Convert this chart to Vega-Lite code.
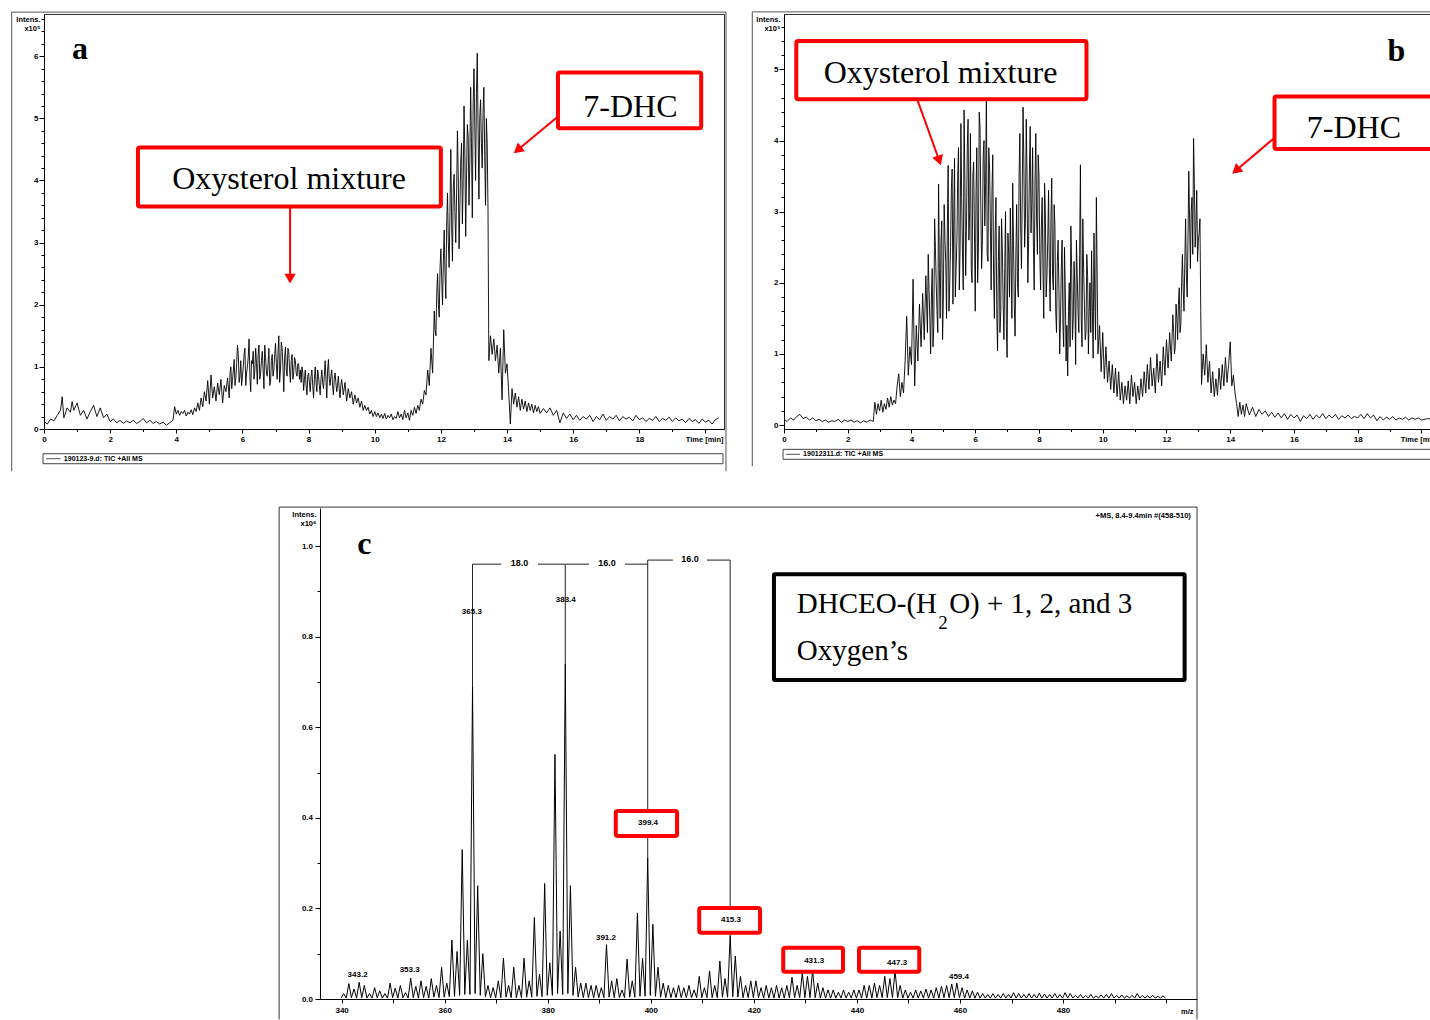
{
"$schema": "https://vega.github.io/schema/vega-lite/v6.json",
"background": "white",
"padding": {"left": 10, "top": 10, "right": -12, "bottom": 0},
"columns": 2,
"bounds": "flush",
"spacing": {"row": 79, "column": 60},
"config": {
  "view": {"stroke": "#333", "strokeWidth": 1},
  "axis": {"labelFont": "Liberation Sans", "labelFontWeight": "bold", "labelFontSize": 8, "labelColor": "#000",
    "titleFont": "Liberation Sans", "titleFontWeight": "bold", "titleFontSize": 7.5, "titleColor": "#000",
    "domainColor": "#000", "tickColor": "#000", "tickWidth": 1, "grid": false, "labelFlush": false, "labelOverlap": false, "labelBound": false}
},
"datasets": {
"a": [{"x":0,"y":0.12},{"x":0.1,"y":0.08},{"x":0.2,"y":0.16},{"x":0.3,"y":0.13},{"x":0.4,"y":0.22},{"x":0.5,"y":0.3},{"x":0.55,"y":0.52},{"x":0.6,"y":0.18},{"x":0.7,"y":0.34},{"x":0.8,"y":0.27},{"x":0.85,"y":0.44},{"x":0.9,"y":0.3},{"x":1.0,"y":0.42},{"x":1.1,"y":0.22},{"x":1.2,"y":0.3},{"x":1.3,"y":0.16},{"x":1.4,"y":0.28},{"x":1.5,"y":0.38},{"x":1.6,"y":0.2},{"x":1.7,"y":0.34},{"x":1.8,"y":0.18},{"x":1.9,"y":0.24},{"x":2.0,"y":0.12},{"x":2.1,"y":0.16},{"x":2.2,"y":0.1},{"x":2.3,"y":0.14},{"x":2.4,"y":0.09},{"x":2.5,"y":0.13},{"x":2.6,"y":0.1},{"x":2.7,"y":0.14},{"x":2.8,"y":0.09},{"x":2.9,"y":0.12},{"x":3.0,"y":0.17},{"x":3.1,"y":0.1},{"x":3.2,"y":0.14},{"x":3.3,"y":0.09},{"x":3.4,"y":0.12},{"x":3.5,"y":0.08},{"x":3.6,"y":0.11},{"x":3.7,"y":0.06},{"x":3.8,"y":0.1},{"x":3.9,"y":0.14},{"x":3.95,"y":0.36},
{"x":4.0,"y":0.24},{"x":4.05,"y":0.3},{"x":4.1,"y":0.22},{"x":4.15,"y":0.28},{"x":4.2,"y":0.25},{"x":4.25,"y":0.3},{"x":4.3,"y":0.21},{"x":4.35,"y":0.27},{"x":4.4,"y":0.24},{"x":4.45,"y":0.31},{"x":4.5,"y":0.23},{"x":4.55,"y":0.34},{"x":4.6,"y":0.28},{"x":4.65,"y":0.42},{"x":4.7,"y":0.3},{"x":4.75,"y":0.5},{"x":4.8,"y":0.36},{"x":4.85,"y":0.6},{"x":4.9,"y":0.45},{"x":4.95,"y":0.78},
{"x":5.0,"y":0.4},{"x":5.05,"y":0.87},{"x":5.1,"y":0.5},{"x":5.15,"y":0.68},{"x":5.2,"y":0.45},{"x":5.25,"y":0.74},{"x":5.3,"y":0.55},{"x":5.35,"y":0.8},{"x":5.4,"y":0.42},{"x":5.45,"y":0.7},{"x":5.5,"y":0.6},{"x":5.55,"y":0.82},{"x":5.6,"y":0.5},{"x":5.65,"y":1.0},{"x":5.7,"y":0.78},{"x":5.75,"y":1.12},{"x":5.8,"y":0.82},{"x":5.85,"y":1.35},{"x":5.9,"y":0.75},{"x":5.95,"y":1.1},
{"x":6.0,"y":0.85},{"x":6.05,"y":1.2},{"x":6.1,"y":0.7},{"x":6.15,"y":1.0},{"x":6.2,"y":1.45},{"x":6.25,"y":0.6},{"x":6.3,"y":1.05},{"x":6.35,"y":0.8},{"x":6.4,"y":1.3},{"x":6.45,"y":0.72},{"x":6.5,"y":1.35},{"x":6.55,"y":0.9},{"x":6.6,"y":1.25},{"x":6.65,"y":0.65},{"x":6.7,"y":1.15},{"x":6.75,"y":0.85},{"x":6.8,"y":1.3},{"x":6.85,"y":0.75},{"x":6.9,"y":1.2},{"x":6.95,"y":0.95},
{"x":7.0,"y":1.38},{"x":7.05,"y":0.8},{"x":7.1,"y":1.5},{"x":7.15,"y":0.95},{"x":7.2,"y":1.3},{"x":7.25,"y":0.6},{"x":7.3,"y":1.32},{"x":7.35,"y":0.85},{"x":7.4,"y":1.25},{"x":7.45,"y":0.75},{"x":7.5,"y":1.2},{"x":7.55,"y":0.9},{"x":7.6,"y":1.1},{"x":7.65,"y":0.85},{"x":7.7,"y":1.05},{"x":7.75,"y":0.95},{"x":7.8,"y":1.0},{"x":7.85,"y":0.62},{"x":7.9,"y":0.95},{"x":7.95,"y":0.55},
{"x":8.0,"y":0.9},{"x":8.05,"y":0.6},{"x":8.1,"y":0.95},{"x":8.15,"y":0.5},{"x":8.2,"y":1.0},{"x":8.25,"y":0.6},{"x":8.3,"y":0.85},{"x":8.35,"y":0.55},{"x":8.4,"y":0.95},{"x":8.45,"y":0.65},{"x":8.5,"y":1.1},{"x":8.55,"y":0.5},{"x":8.6,"y":1.12},{"x":8.65,"y":0.7},{"x":8.7,"y":0.95},{"x":8.75,"y":0.55},{"x":8.8,"y":0.9},{"x":8.85,"y":0.6},{"x":8.9,"y":0.85},{"x":8.95,"y":0.5},
{"x":9.0,"y":0.8},{"x":9.05,"y":0.55},{"x":9.1,"y":0.75},{"x":9.15,"y":0.45},{"x":9.2,"y":0.65},{"x":9.25,"y":0.5},{"x":9.3,"y":0.6},{"x":9.35,"y":0.4},{"x":9.4,"y":0.55},{"x":9.45,"y":0.42},{"x":9.5,"y":0.5},{"x":9.55,"y":0.35},{"x":9.6,"y":0.45},{"x":9.65,"y":0.3},{"x":9.7,"y":0.38},{"x":9.75,"y":0.3},{"x":9.8,"y":0.35},{"x":9.85,"y":0.24},{"x":9.9,"y":0.3},{"x":9.95,"y":0.2},
{"x":10.0,"y":0.28},{"x":10.05,"y":0.2},{"x":10.1,"y":0.26},{"x":10.15,"y":0.18},{"x":10.2,"y":0.24},{"x":10.25,"y":0.17},{"x":10.3,"y":0.25},{"x":10.35,"y":0.16},{"x":10.4,"y":0.22},{"x":10.45,"y":0.18},{"x":10.5,"y":0.24},{"x":10.55,"y":0.15},{"x":10.6,"y":0.2},{"x":10.65,"y":0.17},{"x":10.7,"y":0.28},{"x":10.75,"y":0.18},{"x":10.8,"y":0.24},{"x":10.85,"y":0.15},{"x":10.9,"y":0.3},{"x":10.95,"y":0.18},
{"x":11.0,"y":0.26},{"x":11.05,"y":0.14},{"x":11.1,"y":0.3},{"x":11.15,"y":0.22},{"x":11.2,"y":0.35},{"x":11.25,"y":0.25},{"x":11.3,"y":0.38},{"x":11.35,"y":0.3},{"x":11.4,"y":0.48},{"x":11.45,"y":0.4},{"x":11.5,"y":0.62},{"x":11.55,"y":0.55},{"x":11.6,"y":0.95},{"x":11.65,"y":0.7},{"x":11.7,"y":1.3},{"x":11.75,"y":0.9},{"x":11.8,"y":1.9},{"x":11.85,"y":1.5},{"x":11.9,"y":2.5},{"x":11.95,"y":1.8},
{"x":12.0,"y":2.9},{"x":12.05,"y":2.0},{"x":12.1,"y":3.2},{"x":12.15,"y":2.1},{"x":12.2,"y":3.8},{"x":12.25,"y":2.6},{"x":12.3,"y":4.5},{"x":12.35,"y":2.7},{"x":12.4,"y":4.1},{"x":12.45,"y":3.0},{"x":12.5,"y":4.8},{"x":12.55,"y":2.9},{"x":12.6,"y":4.3},{"x":12.65,"y":3.3},{"x":12.7,"y":5.2},{"x":12.75,"y":3.1},{"x":12.8,"y":4.9},{"x":12.85,"y":3.6},{"x":12.9,"y":5.5},{"x":12.95,"y":3.4},
{"x":13.0,"y":5.8},{"x":13.05,"y":4.0},{"x":13.1,"y":6.05},{"x":13.15,"y":3.7},{"x":13.2,"y":5.3},{"x":13.25,"y":4.2},{"x":13.3,"y":5.5},{"x":13.35,"y":3.6},{"x":13.4,"y":4.6},{"x":13.45,"y":1.1},{"x":13.5,"y":1.5},{"x":13.55,"y":1.2},{"x":13.6,"y":1.45},{"x":13.65,"y":1.1},{"x":13.7,"y":1.35},{"x":13.75,"y":0.9},{"x":13.8,"y":1.3},{"x":13.85,"y":0.47},{"x":13.9,"y":1.6},{"x":13.95,"y":0.9},
{"x":14.0,"y":1.05},{"x":14.05,"y":0.6},{"x":14.1,"y":0.08},{"x":14.15,"y":0.65},{"x":14.2,"y":0.4},{"x":14.25,"y":0.58},{"x":14.3,"y":0.35},{"x":14.35,"y":0.52},{"x":14.4,"y":0.3},{"x":14.45,"y":0.48},{"x":14.5,"y":0.32},{"x":14.55,"y":0.45},{"x":14.6,"y":0.28},{"x":14.65,"y":0.42},{"x":14.7,"y":0.3},{"x":14.75,"y":0.4},{"x":14.8,"y":0.26},{"x":14.85,"y":0.38},{"x":14.9,"y":0.28},{"x":14.95,"y":0.36},
{"x":15.0,"y":0.25},{"x":15.1,"y":0.33},{"x":15.2,"y":0.26},{"x":15.3,"y":0.34},{"x":15.4,"y":0.22},{"x":15.5,"y":0.3},{"x":15.6,"y":0.1},{"x":15.7,"y":0.26},{"x":15.8,"y":0.17},{"x":15.9,"y":0.24},{"x":16.0,"y":0.15},{"x":16.1,"y":0.22},{"x":16.2,"y":0.14},{"x":16.3,"y":0.2},{"x":16.4,"y":0.16},{"x":16.5,"y":0.22},{"x":16.6,"y":0.12},{"x":16.7,"y":0.2},{"x":16.8,"y":0.15},{"x":16.9,"y":0.24},{"x":17.0,"y":0.14},{"x":17.1,"y":0.2},{"x":17.2,"y":0.16},{"x":17.3,"y":0.22},{"x":17.4,"y":0.13},{"x":17.5,"y":0.2},{"x":17.6,"y":0.16},{"x":17.7,"y":0.19},{"x":17.8,"y":0.13},{"x":17.9,"y":0.22},{"x":18.0,"y":0.15},{"x":18.1,"y":0.18},{"x":18.2,"y":0.12},{"x":18.3,"y":0.17},{"x":18.4,"y":0.14},{"x":18.5,"y":0.2},{"x":18.6,"y":0.12},{"x":18.7,"y":0.17},{"x":18.8,"y":0.14},{"x":18.9,"y":0.19},{"x":19.0,"y":0.12},{"x":19.1,"y":0.18},{"x":19.2,"y":0.13},{"x":19.3,"y":0.16},{"x":19.4,"y":0.1},{"x":19.5,"y":0.17},{"x":19.6,"y":0.12},{"x":19.7,"y":0.15},{"x":19.8,"y":0.09},{"x":19.9,"y":0.16},{"x":20.0,"y":0.11},{"x":20.1,"y":0.14},{"x":20.2,"y":0.08},{"x":20.3,"y":0.15},{"x":20.4,"y":0.18},
{"x":5.625,"y":0.9},{"x":5.675,"y":0.65},{"x":5.725,"y":0.95},{"x":5.775,"y":0.7},{"x":5.825,"y":1.05},{"x":5.875,"y":1.2},{"x":5.925,"y":0.85},{"x":5.975,"y":0.7},{"x":6.025,"y":1.0},{"x":6.075,"y":1.3},{"x":6.125,"y":0.9},{"x":6.175,"y":1.15},{"x":6.225,"y":0.85},{"x":6.275,"y":1.1},{"x":6.325,"y":1.25},{"x":6.375,"y":0.95},{"x":6.425,"y":1.05},{"x":6.475,"y":1.2},{"x":6.525,"y":0.8},{"x":6.575,"y":1.1},{"x":6.625,"y":0.95},{"x":6.675,"y":1.35},{"x":6.725,"y":0.9},{"x":6.775,"y":1.05},{"x":6.825,"y":0.7},{"x":6.875,"y":1.1},{"x":6.925,"y":0.85},{"x":6.975,"y":1.2},
{"x":7.025,"y":1.05},{"x":7.075,"y":1.2},{"x":7.125,"y":0.75},{"x":7.175,"y":1.4},{"x":7.225,"y":1.0},{"x":7.275,"y":1.15},{"x":7.325,"y":0.95},{"x":7.375,"y":1.3},{"x":7.425,"y":0.95},{"x":7.475,"y":1.1},{"x":7.525,"y":0.8},{"x":7.575,"y":1.15},{"x":7.625,"y":0.9},{"x":7.675,"y":1.05},{"x":7.725,"y":0.8},{"x":7.775,"y":0.75},{"x":7.825,"y":0.9},{"x":7.875,"y":0.8},{"x":7.925,"y":0.7},{"x":7.975,"y":0.85},
{"x":8.025,"y":0.75},{"x":8.075,"y":0.85},{"x":8.125,"y":0.7},{"x":8.175,"y":0.8},{"x":8.225,"y":0.75},{"x":8.275,"y":0.95},{"x":8.325,"y":0.7},{"x":8.375,"y":0.8},{"x":8.425,"y":0.75},{"x":8.475,"y":0.85},{"x":8.525,"y":0.8},{"x":8.575,"y":0.95},{"x":8.625,"y":0.8},{"x":8.675,"y":0.85},{"x":8.725,"y":0.7},{"x":8.775,"y":0.8},{"x":8.825,"y":0.75},{"x":8.875,"y":0.7},{"x":8.925,"y":0.65},{"x":8.975,"y":0.7},
{"x":11.825,"y":1.6},{"x":11.875,"y":2.2},{"x":11.925,"y":2.0},{"x":11.975,"y":2.6},{"x":12.025,"y":2.4},{"x":12.075,"y":2.7},{"x":12.125,"y":2.5},{"x":12.175,"y":3.3},{"x":12.225,"y":3.0},{"x":12.275,"y":3.5},{"x":12.325,"y":3.3},{"x":12.375,"y":3.9},{"x":12.425,"y":3.5},{"x":12.475,"y":3.8},{"x":12.525,"y":4.1},{"x":12.575,"y":3.6},{"x":12.625,"y":4.6},{"x":12.675,"y":4.0},{"x":12.725,"y":4.4},{"x":12.775,"y":4.1},{"x":12.825,"y":4.7},{"x":12.875,"y":4.3},{"x":12.925,"y":4.6},{"x":12.975,"y":5.2},{"x":13.025,"y":4.9},{"x":13.075,"y":5.4},{"x":13.125,"y":4.8},{"x":13.175,"y":5.0},{"x":13.225,"y":4.6},{"x":13.275,"y":5.1},{"x":13.325,"y":4.4},{"x":13.375,"y":5.0},{"x":13.425,"y":3.5}],
"b": [{"x":0,"y":0.08},{"x":0.1,"y":0.05},{"x":0.2,"y":0.1},{"x":0.3,"y":0.07},{"x":0.4,"y":0.12},{"x":0.5,"y":0.15},{"x":0.6,"y":0.09},{"x":0.7,"y":0.11},{"x":0.8,"y":0.07},{"x":0.9,"y":0.1},{"x":1.0,"y":0.06},{"x":1.1,"y":0.08},{"x":1.2,"y":0.05},{"x":1.3,"y":0.07},{"x":1.4,"y":0.04},{"x":1.5,"y":0.06},{"x":1.6,"y":0.05},{"x":1.7,"y":0.08},{"x":1.8,"y":0.04},{"x":1.9,"y":0.07},{"x":2.0,"y":0.05},{"x":2.1,"y":0.07},{"x":2.2,"y":0.04},{"x":2.3,"y":0.06},{"x":2.4,"y":0.03},{"x":2.5,"y":0.06},{"x":2.6,"y":0.04},{"x":2.7,"y":0.07},{"x":2.8,"y":0.05},
{"x":2.85,"y":0.32},{"x":2.9,"y":0.15},{"x":2.95,"y":0.3},{"x":3.0,"y":0.2},{"x":3.05,"y":0.35},{"x":3.1,"y":0.18},{"x":3.15,"y":0.3},{"x":3.2,"y":0.22},{"x":3.25,"y":0.38},{"x":3.3,"y":0.25},{"x":3.35,"y":0.4},{"x":3.4,"y":0.28},{"x":3.45,"y":0.35},{"x":3.5,"y":0.3},{"x":3.55,"y":0.55},{"x":3.6,"y":0.72},{"x":3.65,"y":0.4},{"x":3.7,"y":0.6},{"x":3.75,"y":0.45},{"x":3.8,"y":0.9},{"x":3.85,"y":1.53},{"x":3.9,"y":0.7},{"x":3.95,"y":1.1},
{"x":4.0,"y":0.85},{"x":4.05,"y":2.05},{"x":4.1,"y":0.55},{"x":4.15,"y":1.4},{"x":4.2,"y":0.9},{"x":4.25,"y":1.7},{"x":4.3,"y":1.1},{"x":4.35,"y":1.85},{"x":4.4,"y":1.2},{"x":4.45,"y":2.1},{"x":4.5,"y":1.3},{"x":4.55,"y":1.9},{"x":4.6,"y":1.0},{"x":4.65,"y":2.2},{"x":4.7,"y":1.4},{"x":4.75,"y":2.5},{"x":4.8,"y":1.6},{"x":4.85,"y":3.39},{"x":4.9,"y":1.5},{"x":4.95,"y":2.87},
{"x":5.0,"y":1.8},{"x":5.05,"y":2.6},{"x":5.1,"y":1.5},{"x":5.15,"y":3.65},{"x":5.2,"y":2.0},{"x":5.25,"y":3.3},{"x":5.3,"y":1.7},{"x":5.35,"y":3.75},{"x":5.4,"y":2.2},{"x":5.45,"y":3.5},{"x":5.5,"y":1.9},{"x":5.55,"y":4.24},{"x":5.6,"y":2.4},{"x":5.65,"y":4.43},{"x":5.7,"y":2.1},{"x":5.75,"y":3.9},{"x":5.8,"y":2.6},{"x":5.85,"y":4.1},{"x":5.9,"y":2.0},{"x":5.95,"y":3.7},
{"x":6.0,"y":1.6},{"x":6.05,"y":3.9},{"x":6.1,"y":2.5},{"x":6.15,"y":4.2},{"x":6.2,"y":2.2},{"x":6.25,"y":3.8},{"x":6.3,"y":2.8},{"x":6.35,"y":4.65},{"x":6.4,"y":2.3},{"x":6.45,"y":3.6},{"x":6.5,"y":1.9},{"x":6.55,"y":3.8},{"x":6.6,"y":1.5},{"x":6.65,"y":3.2},{"x":6.7,"y":1.04},{"x":6.75,"y":2.8},{"x":6.8,"y":1.6},{"x":6.85,"y":2.5},{"x":6.9,"y":1.2},{"x":6.95,"y":3.0},
{"x":7.0,"y":0.95},{"x":7.05,"y":2.4},{"x":7.1,"y":3.05},{"x":7.15,"y":1.5},{"x":7.2,"y":2.6},{"x":7.25,"y":1.25},{"x":7.3,"y":3.1},{"x":7.35,"y":1.8},{"x":7.4,"y":4.1},{"x":7.45,"y":2.2},{"x":7.5,"y":4.47},{"x":7.55,"y":2.5},{"x":7.6,"y":4.3},{"x":7.65,"y":2.0},{"x":7.7,"y":3.6},{"x":7.75,"y":2.7},{"x":7.8,"y":3.9},{"x":7.85,"y":1.9},{"x":7.9,"y":4.1},{"x":7.95,"y":2.4},
{"x":8.0,"y":3.5},{"x":8.05,"y":1.9},{"x":8.1,"y":3.2},{"x":8.15,"y":1.5},{"x":8.2,"y":3.0},{"x":8.25,"y":2.1},{"x":8.3,"y":3.3},{"x":8.35,"y":1.6},{"x":8.4,"y":3.47},{"x":8.45,"y":1.9},{"x":8.5,"y":2.8},{"x":8.55,"y":1.3},{"x":8.6,"y":2.6},{"x":8.65,"y":1.0},{"x":8.7,"y":2.2},{"x":8.75,"y":1.4},{"x":8.8,"y":2.5},{"x":8.85,"y":0.9},{"x":8.9,"y":0.69},{"x":8.95,"y":2.0},
{"x":9.0,"y":2.8},{"x":9.05,"y":1.2},{"x":9.1,"y":2.3},{"x":9.15,"y":0.85},{"x":9.2,"y":2.1},{"x":9.25,"y":1.3},{"x":9.3,"y":3.66},{"x":9.35,"y":1.1},{"x":9.4,"y":2.2},{"x":9.45,"y":1.2},{"x":9.5,"y":2.4},{"x":9.55,"y":1.0},{"x":9.6,"y":2.0},{"x":9.65,"y":2.45},{"x":9.7,"y":0.94},{"x":9.75,"y":1.8},{"x":9.8,"y":3.2},{"x":9.85,"y":1.0},{"x":9.9,"y":1.4},{"x":9.95,"y":0.75},
{"x":10.0,"y":1.3},{"x":10.05,"y":0.65},{"x":10.1,"y":1.1},{"x":10.15,"y":0.6},{"x":10.2,"y":0.9},{"x":10.25,"y":0.5},{"x":10.3,"y":0.85},{"x":10.35,"y":0.45},{"x":10.4,"y":0.8},{"x":10.45,"y":0.4},{"x":10.5,"y":0.75},{"x":10.55,"y":0.35},{"x":10.6,"y":0.6},{"x":10.65,"y":0.3},{"x":10.7,"y":0.55},{"x":10.75,"y":0.35},{"x":10.8,"y":0.62},{"x":10.85,"y":0.3},{"x":10.9,"y":0.7},{"x":10.95,"y":0.4},
{"x":11.0,"y":0.6},{"x":11.05,"y":0.3},{"x":11.1,"y":0.55},{"x":11.15,"y":0.35},{"x":11.2,"y":0.65},{"x":11.25,"y":0.4},{"x":11.3,"y":0.75},{"x":11.35,"y":0.45},{"x":11.4,"y":0.85},{"x":11.45,"y":0.5},{"x":11.5,"y":0.95},{"x":11.55,"y":0.55},{"x":11.6,"y":0.8},{"x":11.65,"y":0.45},{"x":11.7,"y":1.0},{"x":11.75,"y":0.6},{"x":11.8,"y":0.9},{"x":11.85,"y":0.55},{"x":11.9,"y":1.1},{"x":11.95,"y":0.7},
{"x":12.0,"y":1.2},{"x":12.05,"y":0.8},{"x":12.1,"y":1.3},{"x":12.15,"y":0.9},{"x":12.2,"y":1.55},{"x":12.25,"y":1.0},{"x":12.3,"y":1.7},{"x":12.35,"y":1.2},{"x":12.4,"y":1.93},{"x":12.45,"y":1.4},{"x":12.5,"y":2.4},{"x":12.55,"y":1.6},{"x":12.6,"y":2.9},{"x":12.65,"y":1.8},{"x":12.7,"y":3.57},{"x":12.75,"y":2.2},{"x":12.8,"y":3.2},{"x":12.85,"y":4.03},{"x":12.9,"y":2.5},{"x":12.95,"y":3.3},
{"x":13.0,"y":2.6},{"x":13.05,"y":2.9},{"x":13.1,"y":0.57},{"x":13.15,"y":1.0},{"x":13.2,"y":0.7},{"x":13.25,"y":1.13},{"x":13.3,"y":0.6},{"x":13.35,"y":0.9},{"x":13.4,"y":0.45},{"x":13.45,"y":0.75},{"x":13.5,"y":0.4},{"x":13.55,"y":0.65},{"x":13.6,"y":0.42},{"x":13.65,"y":0.8},{"x":13.7,"y":0.5},{"x":13.75,"y":0.85},{"x":13.8,"y":0.55},{"x":13.85,"y":0.95},{"x":13.9,"y":0.6},{"x":13.95,"y":0.85},
{"x":14.0,"y":1.17},{"x":14.05,"y":0.55},{"x":14.1,"y":0.7},{"x":14.15,"y":0.45},{"x":14.2,"y":0.3},{"x":14.25,"y":0.12},{"x":14.3,"y":0.32},{"x":14.35,"y":0.15},{"x":14.4,"y":0.28},{"x":14.45,"y":0.12},{"x":14.5,"y":0.3},{"x":14.6,"y":0.14},{"x":14.7,"y":0.25},{"x":14.8,"y":0.12},{"x":14.9,"y":0.22},{"x":15.0,"y":0.15},{"x":15.1,"y":0.2},{"x":15.2,"y":0.12},{"x":15.3,"y":0.18},{"x":15.4,"y":0.11},{"x":15.5,"y":0.17},{"x":15.6,"y":0.1},{"x":15.7,"y":0.16},{"x":15.8,"y":0.08},{"x":15.9,"y":0.15},{"x":16.0,"y":0.1},{"x":16.1,"y":0.14},{"x":16.2,"y":0.05},{"x":16.3,"y":0.13},{"x":16.4,"y":0.09},{"x":16.5,"y":0.15},{"x":16.6,"y":0.08},{"x":16.7,"y":0.14},{"x":16.8,"y":0.1},{"x":16.9,"y":0.16},{"x":17.0,"y":0.09},{"x":17.1,"y":0.14},{"x":17.2,"y":0.1},{"x":17.3,"y":0.15},{"x":17.4,"y":0.08},{"x":17.5,"y":0.13},{"x":17.6,"y":0.1},{"x":17.7,"y":0.14},{"x":17.8,"y":0.09},{"x":17.9,"y":0.12},{"x":18.0,"y":0.1},{"x":18.1,"y":0.15},{"x":18.2,"y":0.09},{"x":18.3,"y":0.16},{"x":18.4,"y":0.1},{"x":18.5,"y":0.14},{"x":18.6,"y":0.06},{"x":18.7,"y":0.12},{"x":18.8,"y":0.07},{"x":18.9,"y":0.11},{"x":19.0,"y":0.08},{"x":19.1,"y":0.12},{"x":19.2,"y":0.07},{"x":19.3,"y":0.1},{"x":19.4,"y":0.08},{"x":19.5,"y":0.11},{"x":19.6,"y":0.07},{"x":19.7,"y":0.1},{"x":19.8,"y":0.08},{"x":19.9,"y":0.1},{"x":20.0,"y":0.07},{"x":20.2,"y":0.09},{"x":20.4,"y":0.08},{"x":20.55,"y":0.07},
{"x":4.525,"y":2.4},{"x":4.575,"y":1.5},{"x":4.625,"y":1.8},{"x":4.675,"y":1.1},{"x":4.725,"y":2.9},{"x":4.775,"y":2.0},{"x":4.825,"y":1.3},{"x":4.875,"y":2.2},{"x":4.925,"y":2.6},{"x":4.975,"y":1.2},
{"x":5.025,"y":3.1},{"x":5.075,"y":2.3},{"x":5.125,"y":2.8},{"x":5.175,"y":1.6},{"x":5.225,"y":2.5},{"x":5.275,"y":3.6},{"x":5.325,"y":2.9},{"x":5.375,"y":1.8},{"x":5.425,"y":2.6},{"x":5.475,"y":3.9},{"x":5.525,"y":2.5},{"x":5.575,"y":3.2},{"x":5.625,"y":1.9},{"x":5.675,"y":3.4},{"x":5.725,"y":2.8},{"x":5.775,"y":4.3},{"x":5.825,"y":3.0},{"x":5.875,"y":2.2},{"x":5.925,"y":3.5},{"x":5.975,"y":2.7},
{"x":6.025,"y":3.3},{"x":6.075,"y":2.0},{"x":6.125,"y":4.4},{"x":6.175,"y":3.1},{"x":6.225,"y":2.6},{"x":6.275,"y":4.0},{"x":6.325,"y":3.4},{"x":6.375,"y":2.4},{"x":6.425,"y":3.9},{"x":6.475,"y":2.8},{"x":6.525,"y":3.3},{"x":6.575,"y":2.1},{"x":6.625,"y":2.7},{"x":6.675,"y":1.6},{"x":6.725,"y":2.3},{"x":6.775,"y":1.3},{"x":6.825,"y":2.9},{"x":6.875,"y":1.7},{"x":6.925,"y":2.2},{"x":6.975,"y":1.4},
{"x":7.025,"y":2.7},{"x":7.075,"y":1.8},{"x":7.125,"y":2.3},{"x":7.175,"y":3.4},{"x":7.225,"y":1.7},{"x":7.275,"y":2.4},{"x":7.325,"y":2.0},{"x":7.375,"y":3.5},{"x":7.425,"y":2.8},{"x":7.475,"y":3.3},{"x":7.525,"y":3.7},{"x":7.575,"y":2.9},{"x":7.625,"y":3.5},{"x":7.675,"y":2.6},{"x":7.725,"y":4.2},{"x":7.775,"y":3.1},{"x":7.825,"y":2.5},{"x":7.875,"y":3.4},{"x":7.925,"y":2.9},{"x":7.975,"y":3.8},
{"x":8.025,"y":2.4},{"x":8.075,"y":2.8},{"x":8.125,"y":2.2},{"x":8.175,"y":3.4},{"x":8.225,"y":1.8},{"x":8.275,"y":2.6},{"x":8.325,"y":2.2},{"x":8.375,"y":2.9},{"x":8.425,"y":2.1},{"x":8.475,"y":3.1},{"x":8.525,"y":1.6},{"x":8.575,"y":2.3},{"x":8.625,"y":1.9},{"x":8.675,"y":1.5},{"x":8.725,"y":2.6},{"x":8.775,"y":1.1},{"x":8.825,"y":1.9},{"x":8.875,"y":1.4},{"x":8.925,"y":1.6},{"x":8.975,"y":1.1},
{"x":9.025,"y":2.2},{"x":9.075,"y":1.5},{"x":9.125,"y":1.9},{"x":9.175,"y":2.6},{"x":9.225,"y":1.6},{"x":9.275,"y":2.4},{"x":9.325,"y":1.5},{"x":9.375,"y":2.9},{"x":9.425,"y":1.7},{"x":9.475,"y":1.3},{"x":9.525,"y":2.1},{"x":9.575,"y":1.6},{"x":9.625,"y":1.3},{"x":9.675,"y":1.6},{"x":9.725,"y":2.7},{"x":9.775,"y":1.2},
{"x":12.225,"y":1.3},{"x":12.275,"y":1.1},{"x":12.325,"y":1.5},{"x":12.375,"y":1.7},{"x":12.425,"y":1.3},{"x":12.475,"y":2.0},{"x":12.525,"y":1.9},{"x":12.575,"y":2.3},{"x":12.625,"y":2.1},{"x":12.675,"y":2.6},{"x":12.725,"y":2.9},{"x":12.775,"y":3.0},{"x":12.825,"y":2.4},{"x":12.875,"y":3.4},{"x":12.925,"y":2.8},{"x":12.975,"y":2.3},{"x":13.025,"y":2.7},{"x":13.075,"y":1.6}],
"c": [{"x":339.9,"y":0.002},{"x":340.4,"y":0.012},{"x":340.9,"y":0.002},{"x":341.4,"y":0.034},{"x":341.9,"y":0.003},{"x":342.4,"y":0.022},{"x":342.9,"y":0.002},{"x":343.4,"y":0.037},{"x":343.9,"y":0.003},{"x":344.4,"y":0.03},{"x":344.9,"y":0.002},{"x":345.4,"y":0.012},{"x":345.9,"y":0.002},{"x":346.4,"y":0.025},{"x":346.9,"y":0.003},{"x":347.4,"y":0.018},{"x":347.9,"y":0.002},{"x":348.4,"y":0.012},{"x":348.9,"y":0.002},{"x":349.4,"y":0.035},{"x":349.9,"y":0.003},
{"x":350.4,"y":0.024},{"x":350.9,"y":0.002},{"x":351.4,"y":0.03},{"x":351.9,"y":0.003},{"x":352.4,"y":0.014},{"x":352.9,"y":0.002},{"x":353.4,"y":0.046},{"x":353.9,"y":0.003},{"x":354.4,"y":0.028},{"x":354.9,"y":0.002},{"x":355.4,"y":0.04},{"x":355.9,"y":0.003},{"x":356.4,"y":0.028},{"x":356.9,"y":0.002},{"x":357.4,"y":0.045},{"x":357.9,"y":0.004},{"x":358.4,"y":0.03},{"x":358.9,"y":0.003},{"x":359.4,"y":0.07},{"x":359.9,"y":0.004},
{"x":360.4,"y":0.035},{"x":360.9,"y":0.005},{"x":361.4,"y":0.13},{"x":361.9,"y":0.006},{"x":362.4,"y":0.105},{"x":362.9,"y":0.008},{"x":363.4,"y":0.33},{"x":363.9,"y":0.01},{"x":364.4,"y":0.13},{"x":364.9,"y":0.01},{"x":365.4,"y":0.69},{"x":365.9,"y":0.012},{"x":366.4,"y":0.25},{"x":366.9,"y":0.008},{"x":367.4,"y":0.1},{"x":367.9,"y":0.005},{"x":368.4,"y":0.03},{"x":368.9,"y":0.003},{"x":369.4,"y":0.025},{"x":369.9,"y":0.003},
{"x":370.4,"y":0.04},{"x":370.9,"y":0.003},{"x":371.4,"y":0.09},{"x":371.9,"y":0.004},{"x":372.4,"y":0.03},{"x":372.9,"y":0.003},{"x":373.4,"y":0.07},{"x":373.9,"y":0.003},{"x":374.4,"y":0.03},{"x":374.9,"y":0.003},{"x":375.4,"y":0.09},{"x":375.9,"y":0.004},{"x":376.4,"y":0.04},{"x":376.9,"y":0.004},{"x":377.4,"y":0.18},{"x":377.9,"y":0.006},{"x":378.4,"y":0.055},{"x":378.9,"y":0.005},{"x":379.4,"y":0.255},{"x":379.9,"y":0.008},
{"x":380.4,"y":0.08},{"x":380.9,"y":0.008},{"x":381.4,"y":0.54},{"x":381.9,"y":0.012},{"x":382.4,"y":0.15},{"x":382.9,"y":0.01},{"x":383.4,"y":0.74},{"x":383.9,"y":0.012},{"x":384.4,"y":0.25},{"x":384.9,"y":0.008},{"x":385.4,"y":0.07},{"x":385.9,"y":0.004},{"x":386.4,"y":0.035},{"x":386.9,"y":0.003},{"x":387.4,"y":0.035},{"x":387.9,"y":0.003},{"x":388.4,"y":0.03},{"x":388.9,"y":0.003},{"x":389.4,"y":0.03},{"x":389.9,"y":0.003},
{"x":390.4,"y":0.025},{"x":390.9,"y":0.003},{"x":391.4,"y":0.12},{"x":391.9,"y":0.004},{"x":392.4,"y":0.04},{"x":392.9,"y":0.003},{"x":393.4,"y":0.045},{"x":393.9,"y":0.003},{"x":394.4,"y":0.02},{"x":394.9,"y":0.003},{"x":395.4,"y":0.088},{"x":395.9,"y":0.004},{"x":396.4,"y":0.04},{"x":396.9,"y":0.004},{"x":397.4,"y":0.19},{"x":397.9,"y":0.006},{"x":398.4,"y":0.09},{"x":398.9,"y":0.006},{"x":399.4,"y":0.312},{"x":399.9,"y":0.008},
{"x":400.4,"y":0.165},{"x":400.9,"y":0.006},{"x":401.4,"y":0.07},{"x":401.9,"y":0.004},{"x":402.4,"y":0.035},{"x":402.9,"y":0.003},{"x":403.4,"y":0.03},{"x":403.9,"y":0.003},{"x":404.4,"y":0.025},{"x":404.9,"y":0.003},{"x":405.4,"y":0.03},{"x":405.9,"y":0.003},{"x":406.4,"y":0.025},{"x":406.9,"y":0.003},{"x":407.4,"y":0.03},{"x":407.9,"y":0.003},{"x":408.4,"y":0.02},{"x":408.9,"y":0.003},{"x":409.4,"y":0.05},{"x":409.9,"y":0.003},
{"x":410.4,"y":0.025},{"x":410.9,"y":0.003},{"x":411.4,"y":0.062},{"x":411.9,"y":0.003},{"x":412.4,"y":0.03},{"x":412.9,"y":0.003},{"x":413.4,"y":0.084},{"x":413.9,"y":0.004},{"x":414.4,"y":0.045},{"x":414.9,"y":0.004},{"x":415.4,"y":0.14},{"x":415.9,"y":0.005},{"x":416.4,"y":0.095},{"x":416.9,"y":0.004},{"x":417.4,"y":0.05},{"x":417.9,"y":0.003},{"x":418.4,"y":0.03},{"x":418.9,"y":0.003},{"x":419.4,"y":0.04},{"x":419.9,"y":0.003},
{"x":420.4,"y":0.04},{"x":420.9,"y":0.003},{"x":421.4,"y":0.025},{"x":421.9,"y":0.002},{"x":422.4,"y":0.03},{"x":422.9,"y":0.002},{"x":423.4,"y":0.025},{"x":423.9,"y":0.002},{"x":424.4,"y":0.03},{"x":424.9,"y":0.002},{"x":425.4,"y":0.025},{"x":425.9,"y":0.002},{"x":426.4,"y":0.03},{"x":426.9,"y":0.003},{"x":427.4,"y":0.048},{"x":427.9,"y":0.003},{"x":428.4,"y":0.03},{"x":428.9,"y":0.003},{"x":429.4,"y":0.058},{"x":429.9,"y":0.003},
{"x":430.4,"y":0.05},{"x":430.9,"y":0.003},{"x":431.4,"y":0.063},{"x":431.9,"y":0.003},{"x":432.4,"y":0.035},{"x":432.9,"y":0.002},{"x":433.4,"y":0.025},{"x":433.9,"y":0.002},{"x":434.4,"y":0.02},{"x":434.9,"y":0.002},{"x":435.4,"y":0.02},{"x":435.9,"y":0.002},{"x":436.4,"y":0.015},{"x":436.9,"y":0.002},{"x":437.4,"y":0.02},{"x":437.9,"y":0.002},{"x":438.4,"y":0.015},{"x":438.9,"y":0.002},{"x":439.4,"y":0.02},{"x":439.9,"y":0.002},
{"x":440.4,"y":0.02},{"x":440.9,"y":0.002},{"x":441.4,"y":0.03},{"x":441.9,"y":0.002},{"x":442.4,"y":0.03},{"x":442.9,"y":0.002},{"x":443.4,"y":0.035},{"x":443.9,"y":0.003},{"x":444.4,"y":0.03},{"x":444.9,"y":0.003},{"x":445.4,"y":0.05},{"x":445.9,"y":0.003},{"x":446.4,"y":0.045},{"x":446.9,"y":0.003},{"x":447.4,"y":0.062},{"x":447.9,"y":0.003},{"x":448.4,"y":0.03},{"x":448.9,"y":0.002},{"x":449.4,"y":0.02},{"x":449.9,"y":0.002},
{"x":450.4,"y":0.015},{"x":450.9,"y":0.002},{"x":451.4,"y":0.02},{"x":451.9,"y":0.002},{"x":452.4,"y":0.018},{"x":452.9,"y":0.002},{"x":453.4,"y":0.022},{"x":453.9,"y":0.002},{"x":454.4,"y":0.02},{"x":454.9,"y":0.002},{"x":455.4,"y":0.025},{"x":455.9,"y":0.002},{"x":456.4,"y":0.028},{"x":456.9,"y":0.003},{"x":457.4,"y":0.03},{"x":457.9,"y":0.003},{"x":458.4,"y":0.033},{"x":458.9,"y":0.003},{"x":459.4,"y":0.035},{"x":459.9,"y":0.003},
{"x":460.4,"y":0.025},{"x":460.9,"y":0.002},{"x":461.4,"y":0.02},{"x":461.9,"y":0.002},{"x":462.4,"y":0.018},{"x":462.9,"y":0.002},{"x":463.4,"y":0.015},{"x":463.9,"y":0.002},{"x":464.4,"y":0.012},{"x":464.9,"y":0.002},{"x":465.4,"y":0.01},{"x":465.9,"y":0.002},{"x":466.4,"y":0.012},{"x":466.9,"y":0.002},{"x":467.4,"y":0.01},{"x":467.9,"y":0.002},{"x":468.4,"y":0.012},{"x":468.9,"y":0.002},{"x":469.4,"y":0.01},{"x":469.9,"y":0.002},
{"x":470.4,"y":0.014},{"x":470.9,"y":0.002},{"x":471.4,"y":0.012},{"x":471.9,"y":0.002},{"x":472.4,"y":0.01},{"x":472.9,"y":0.002},{"x":473.4,"y":0.012},{"x":473.9,"y":0.002},{"x":474.4,"y":0.01},{"x":474.9,"y":0.002},{"x":475.4,"y":0.013},{"x":475.9,"y":0.002},{"x":476.4,"y":0.011},{"x":476.9,"y":0.002},{"x":477.4,"y":0.01},{"x":477.9,"y":0.002},{"x":478.4,"y":0.012},{"x":478.9,"y":0.002},{"x":479.4,"y":0.01},{"x":479.9,"y":0.002},
{"x":480.4,"y":0.014},{"x":480.9,"y":0.002},{"x":481.4,"y":0.012},{"x":481.9,"y":0.002},{"x":482.4,"y":0.008},{"x":482.9,"y":0.002},{"x":483.4,"y":0.01},{"x":483.9,"y":0.002},{"x":484.4,"y":0.008},{"x":484.9,"y":0.002},{"x":485.4,"y":0.01},{"x":485.9,"y":0.002},{"x":486.4,"y":0.007},{"x":486.9,"y":0.002},{"x":487.4,"y":0.009},{"x":487.9,"y":0.002},{"x":488.4,"y":0.01},{"x":488.9,"y":0.002},{"x":489.4,"y":0.012},{"x":489.9,"y":0.002},
{"x":490.4,"y":0.008},{"x":490.9,"y":0.002},{"x":491.4,"y":0.009},{"x":491.9,"y":0.002},{"x":492.4,"y":0.007},{"x":492.9,"y":0.002},{"x":493.4,"y":0.008},{"x":493.9,"y":0.002},{"x":494.4,"y":0.012},{"x":494.9,"y":0.002},{"x":495.4,"y":0.008},{"x":495.9,"y":0.002},{"x":496.4,"y":0.007},{"x":496.9,"y":0.002},{"x":497.4,"y":0.008},{"x":497.9,"y":0.002},{"x":498.4,"y":0.006},{"x":498.9,"y":0.002},{"x":499.4,"y":0.007},{"x":499.9,"y":0.002}]
},
"concat": [
{
  "width": 680, "height": 415,
  "encoding": {
    "x": {"field": "x", "type": "quantitative", "scale": {"domain": [0, 20.56], "nice": false, "zero": false},
      "axis": {"values": [0,1,2,3,4,5,6,7,8,9,10,11,12,13,14,15,16,17,18,19,20], "labelExpr": "datum.value % 2 == 0 && datum.value < 20 ? format(datum.value, 'd') : ''",
        "tickSize": {"condition": {"test": "datum.value % 2 == 0", "value": 4}, "value": 2.5}, "labelPadding": 2,
        "title": "Time [min]", "titleX": 679, "titleY": 10, "titleAlign": "right", "titleBaseline": "middle", "titleAngle": 0}},
    "y": {"field": "y", "type": "quantitative", "scale": {"domain": [0, 6.68], "nice": false, "zero": false},
      "axis": {"values": [0,0.2,0.4,0.6,0.8,1,1.2,1.4,1.6,1.8,2,2.2,2.4,2.6,2.8,3,3.2,3.4,3.6,3.8,4,4.2,4.4,4.6,4.8,5,5.2,5.4,5.6,5.8,6,6.2,6.4,6.6],
        "labelExpr": "datum.value % 1 == 0 ? format(datum.value, 'd') : ''",
        "tickSize": {"condition": {"test": "datum.value % 1 == 0", "value": 5}, "value": 3}, "labelPadding": 1,
        "title": ["Intens.", "x10⁵"], "titleX": -4, "titleY": 1, "titleAlign": "right", "titleBaseline": "top", "titleAngle": 0, "titleLineHeight": 9}}
  },
  "layer": [
    {"data": {"name": "a"}, "mark": {"type": "line", "color": "#000", "strokeWidth": 0.9}},
    {"data": {"values": [{"x": 7.44, "y": 3.57, "x2": 7.44, "y2": 2.42}, {"x": 15.54, "y": 5.03, "x2": 14.32, "y2": 4.49}]},
     "mark": {"type": "rule", "color": "#ff0000", "strokeWidth": 2}, "encoding": {"x2": {"field": "x2"}, "y2": {"field": "y2"}}},
    {"data": {"values": [{"x": 7.44, "y": 2.42}]}, "mark": {"type": "point", "shape": "triangle-up", "filled": true, "color": "#ff0000", "size": 130, "angle": 180, "opacity": 1}},
    {"data": {"values": [{"x": 14.32, "y": 4.49}]}, "mark": {"type": "point", "shape": "triangle-up", "filled": true, "color": "#ff0000", "size": 130, "angle": 230.5, "opacity": 1}},
    {"data": {"values": [{"x": 2.84, "y": 4.53, "x2": 12.0, "y2": 3.58}, {"x": 15.54, "y": 5.74, "x2": 19.87, "y2": 4.84}]},
     "mark": {"type": "rect", "fill": "#ffffff", "stroke": "#ff0000", "strokeWidth": 4, "cornerRadius": 2}, "encoding": {"x2": {"field": "x2"}, "y2": {"field": "y2"}}},
    {"data": {"values": [{"x": 7.41, "y": 3.86, "label": "Oxysterol mixture"}, {"x": 17.73, "y": 5.03, "label": "7-DHC"}]},
     "mark": {"type": "text", "font": "Liberation Serif", "fontSize": 32, "align": "center", "baseline": "alphabetic", "color": "#000"}, "encoding": {"text": {"field": "label"}}},
    {"data": {"values": [{"x": 1.09, "y": 5.96, "label": "a"}]},
     "mark": {"type": "text", "font": "Liberation Serif", "fontWeight": "bold", "fontSize": 32, "align": "center", "baseline": "alphabetic", "color": "#000"}, "encoding": {"text": {"field": "label"}}},
    {"data": {"values": [{"x": -0.977, "y": -0.68, "x2": -0.977, "y2": 6.71}, {"x": -0.977, "y": 6.71, "x2": 20.62, "y2": 6.71}, {"x": 20.62, "y": 6.71, "x2": 20.62, "y2": -0.68}, {"x": 0.06, "y": -0.478, "x2": 0.5, "y2": -0.478}]},
     "mark": {"type": "rule", "color": "#555", "strokeWidth": 1}, "encoding": {"x2": {"field": "x2"}, "y2": {"field": "y2"}}},
    {"data": {"values": [{"x": -0.03, "y": -0.398, "x2": 20.53, "y2": -0.559}]},
     "mark": {"type": "rect", "filled": false, "stroke": "#444", "strokeWidth": 1}, "encoding": {"x2": {"field": "x2"}, "y2": {"field": "y2"}}},
    {"data": {"values": [{"x": 0.6, "y": -0.478, "label": "190123-9.d: TIC +All MS"}]},
     "mark": {"type": "text", "font": "Liberation Sans", "fontWeight": "bold", "fontSize": 7, "align": "left", "baseline": "middle", "color": "#000"}, "encoding": {"text": {"field": "label"}}}
  ]
},
{
  "width": 655, "height": 415,
  "encoding": {
    "x": {"field": "x", "type": "quantitative", "scale": {"domain": [0, 20.55], "nice": false, "zero": false},
      "axis": {"values": [0,1,2,3,4,5,6,7,8,9,10,11,12,13,14,15,16,17,18,19,20], "labelExpr": "datum.value % 2 == 0 && datum.value < 20 ? format(datum.value, 'd') : ''",
        "tickSize": {"condition": {"test": "datum.value % 2 == 0", "value": 4}, "value": 2.5}, "labelPadding": 2,
        "title": "Time [min]", "titleX": 654, "titleY": 10, "titleAlign": "right", "titleBaseline": "middle", "titleAngle": 0}},
    "y": {"field": "y", "type": "quantitative", "scale": {"domain": [-0.056, 5.78], "nice": false, "zero": false},
      "axis": {"values": [0,0.2,0.4,0.6,0.8,1,1.2,1.4,1.6,1.8,2,2.2,2.4,2.6,2.8,3,3.2,3.4,3.6,3.8,4,4.2,4.4,4.6,4.8,5,5.2,5.4,5.6],
        "labelExpr": "datum.value % 1 == 0 ? format(datum.value, 'd') : ''",
        "tickSize": {"condition": {"test": "datum.value % 1 == 0", "value": 5}, "value": 3}, "labelPadding": 1,
        "title": ["Intens.", "x10⁵"], "titleX": -4, "titleY": 1, "titleAlign": "right", "titleBaseline": "top", "titleAngle": 0, "titleLineHeight": 9}}
  },
  "layer": [
    {"data": {"name": "b"}, "mark": {"type": "line", "color": "#000", "strokeWidth": 0.9}},
    {"data": {"values": [{"x": 4.18, "y": 4.58, "x2": 4.87, "y2": 3.72}, {"x": 15.39, "y": 4.04, "x2": 14.18, "y2": 3.58}]},
     "mark": {"type": "rule", "color": "#ff0000", "strokeWidth": 2}, "encoding": {"x2": {"field": "x2"}, "y2": {"field": "y2"}}},
    {"data": {"values": [{"x": 4.87, "y": 3.72}]}, "mark": {"type": "point", "shape": "triangle-up", "filled": true, "color": "#ff0000", "size": 130, "angle": 160.3, "opacity": 1}},
    {"data": {"values": [{"x": 14.18, "y": 3.58}]}, "mark": {"type": "point", "shape": "triangle-up", "filled": true, "color": "#ff0000", "size": 130, "angle": 229.3, "opacity": 1}},
    {"data": {"values": [{"x": 0.386, "y": 5.40, "x2": 9.49, "y2": 4.58}, {"x": 15.39, "y": 4.62, "x2": 20.62, "y2": 3.88}]},
     "mark": {"type": "rect", "fill": "#ffffff", "stroke": "#ff0000", "strokeWidth": 4, "cornerRadius": 2}, "encoding": {"x2": {"field": "x2"}, "y2": {"field": "y2"}}},
    {"data": {"values": [{"x": 4.91, "y": 4.81, "label": "Oxysterol mixture"}, {"x": 17.88, "y": 4.03, "label": "7-DHC"}]},
     "mark": {"type": "text", "font": "Liberation Serif", "fontSize": 32, "align": "center", "baseline": "alphabetic", "color": "#000"}, "encoding": {"text": {"field": "label"}}},
    {"data": {"values": [{"x": 19.21, "y": 5.12, "label": "b"}]},
     "mark": {"type": "text", "font": "Liberation Serif", "fontWeight": "bold", "fontSize": 32, "align": "center", "baseline": "alphabetic", "color": "#000"}, "encoding": {"text": {"field": "label"}}},
    {"data": {"values": [{"x": -0.995, "y": -0.58, "x2": -0.995, "y2": 5.81}, {"x": -0.995, "y": 5.81, "x2": 20.55, "y2": 5.81}, {"x": 0.06, "y": -0.412, "x2": 0.5, "y2": -0.412}]},
     "mark": {"type": "rule", "color": "#555", "strokeWidth": 1}, "encoding": {"x2": {"field": "x2"}, "y2": {"field": "y2"}}},
    {"data": {"values": [{"x": -0.03, "y": -0.342, "x2": 20.55, "y2": -0.482}]},
     "mark": {"type": "rect", "filled": false, "stroke": "#444", "strokeWidth": 1}, "encoding": {"x2": {"field": "x2"}, "y2": {"field": "y2"}}},
    {"data": {"values": [{"x": 0.6, "y": -0.412, "label": "19012311.d: TIC +All MS"}]},
     "mark": {"type": "text", "font": "Liberation Sans", "fontWeight": "bold", "fontSize": 7, "align": "left", "baseline": "middle", "color": "#000"}, "encoding": {"text": {"field": "label"}}}
  ]
},
{
  "width": 680, "height": 491,
  "view": {"stroke": null},
  "encoding": {
    "x": {"field": "x", "type": "quantitative", "scale": {"domain": [335.8, 506], "range": [276, 1153], "nice": false, "zero": false},
      "axis": {"values": [340,350,360,370,380,390,400,410,420,430,440,450,460,470,480,490,500], "labelExpr": "datum.value % 20 == 0 && datum.value < 500 ? format(datum.value, 'd') : ''",
        "tickSize": 4, "labelPadding": 3,
        "title": "m/z", "titleX": 1149, "titleY": 12, "titleAlign": "right", "titleBaseline": "middle", "titleAngle": 0}},
    "y": {"field": "y", "type": "quantitative", "scale": {"domain": [0, 1.084], "nice": false, "zero": false},
      "axis": {"values": [0,0.1,0.2,0.3,0.4,0.5,0.6,0.7,0.8,0.9,1.0], "offset": -276,
        "labelExpr": "round(datum.value * 10) % 2 == 0 ? format(datum.value, '.1f') : ''",
        "tickSize": {"condition": {"test": "round(datum.value * 10) % 2 == 0", "value": 5}, "value": 3}, "labelPadding": 2.5,
        "title": ["Intens.", "x10⁶"], "titleX": -4, "titleY": 2, "titleAlign": "right", "titleBaseline": "top", "titleAngle": 0, "titleLineHeight": 9}}
  },
  "layer": [
    {"data": {"name": "c"}, "mark": {"type": "line", "color": "#000", "strokeWidth": 1}},
    {"data": {"values": [
      {"x": 365.4, "y": 0.69, "x2": 365.4, "y2": 0.96}, {"x": 383.4, "y": 0.74, "x2": 383.4, "y2": 0.96},
      {"x": 399.4, "y": 0.312, "x2": 399.4, "y2": 0.969}, {"x": 415.4, "y": 0.14, "x2": 415.4, "y2": 0.969},
      {"x": 365.4, "y": 0.96, "x2": 371.0, "y2": 0.96}, {"x": 378.1, "y": 0.96, "x2": 383.4, "y2": 0.96},
      {"x": 383.4, "y": 0.96, "x2": 388.0, "y2": 0.96}, {"x": 395.0, "y": 0.96, "x2": 399.4, "y2": 0.96},
      {"x": 399.4, "y": 0.969, "x2": 404.3, "y2": 0.969}, {"x": 410.9, "y": 0.969, "x2": 415.4, "y2": 0.969}]},
     "mark": {"type": "rule", "color": "#222", "strokeWidth": 1}, "encoding": {"x2": {"field": "x2"}, "y2": {"field": "y2"}}},
    {"data": {"values": [{"x": 393.2, "y": 0.415, "x2": 405.1, "y2": 0.36}, {"x": 409.4, "y": 0.201, "x2": 421.2, "y2": 0.146}, {"x": 425.7, "y": 0.113, "x2": 437.3, "y2": 0.06}, {"x": 440.4, "y": 0.113, "x2": 452.1, "y2": 0.06}]},
     "mark": {"type": "rect", "fill": "#ffffff", "stroke": "#ff0000", "strokeWidth": 4, "cornerRadius": 2}, "encoding": {"x2": {"field": "x2"}, "y2": {"field": "y2"}}},
    {"data": {"values": [{"x": 423.9, "y": 0.938, "x2": 503.6, "y2": 0.704}]},
     "mark": {"type": "rect", "fill": "#ffffff", "stroke": "#000000", "strokeWidth": 4, "cornerRadius": 1}, "encoding": {"x2": {"field": "x2"}, "y2": {"field": "y2"}}},
    {"data": {"values": [
      {"x": 365.27, "y": 0.854, "label": "365.3"}, {"x": 383.5, "y": 0.881, "label": "383.4"}, {"x": 391.3, "y": 0.135, "label": "391.2"},
      {"x": 343.1, "y": 0.053, "label": "343.2"}, {"x": 353.2, "y": 0.064, "label": "353.3"}, {"x": 459.8, "y": 0.049, "label": "459.4"},
      {"x": 399.46, "y": 0.389, "label": "399.4"}, {"x": 415.56, "y": 0.174, "label": "415.3"}, {"x": 431.7, "y": 0.084, "label": "431.3"}, {"x": 447.8, "y": 0.080, "label": "447.3"}]},
     "mark": {"type": "text", "font": "Liberation Sans", "fontWeight": "bold", "fontSize": 8, "align": "center", "baseline": "middle", "color": "#000"}, "encoding": {"text": {"field": "label"}}},
    {"data": {"values": [{"x": 374.5, "y": 0.963, "label": "18.0"}, {"x": 391.5, "y": 0.963, "label": "16.0"}, {"x": 407.6, "y": 0.971, "label": "16.0"}]},
     "mark": {"type": "text", "font": "Liberation Sans", "fontWeight": "bold", "fontSize": 9, "align": "center", "baseline": "middle", "color": "#000"}, "encoding": {"text": {"field": "label"}}},
    {"data": {"values": [{"x": 504.8, "y": 1.066, "label": "+MS, 8.4-9.4min #(458-510)"}]},
     "mark": {"type": "text", "font": "Liberation Sans", "fontWeight": "bold", "fontSize": 7.5, "align": "right", "baseline": "middle", "color": "#000"}, "encoding": {"text": {"field": "label"}}},
    {"data": {"values": [{"x": 344.4, "y": 0.982, "label": "c"}]},
     "mark": {"type": "text", "font": "Liberation Serif", "fontWeight": "bold", "fontSize": 32, "align": "center", "baseline": "alphabetic", "color": "#000"}, "encoding": {"text": {"field": "label"}}},
    {"data": {"values": [{"x": 428.34, "y": 0.852, "label": "DHCEO-(H"}, {"x": 457.9, "y": 0.852, "label": "O) + 1, 2, and 3"}, {"x": 428.34, "y": 0.748, "label": "Oxygen’s"}]},
     "mark": {"type": "text", "font": "Liberation Serif", "fontSize": 29, "align": "left", "baseline": "alphabetic", "color": "#000"}, "encoding": {"text": {"field": "label"}}},
    {"data": {"values": [{"x": 456.7, "y": 0.817, "label": "2"}]},
     "mark": {"type": "text", "font": "Liberation Serif", "fontSize": 19, "align": "center", "baseline": "alphabetic", "color": "#000"}, "encoding": {"text": {"field": "label"}}},
    {"data": {"values": [{"x": 327.87, "y": -0.045, "x2": 327.87, "y2": 1.086}, {"x": 327.87, "y": 1.086, "x2": 506, "y2": 1.086}, {"x": 506, "y": 1.086, "x2": 506, "y2": -0.045}]},
     "mark": {"type": "rule", "color": "#333", "strokeWidth": 1}, "encoding": {"x2": {"field": "x2"}, "y2": {"field": "y2"}}}
  ]
}
]
}
